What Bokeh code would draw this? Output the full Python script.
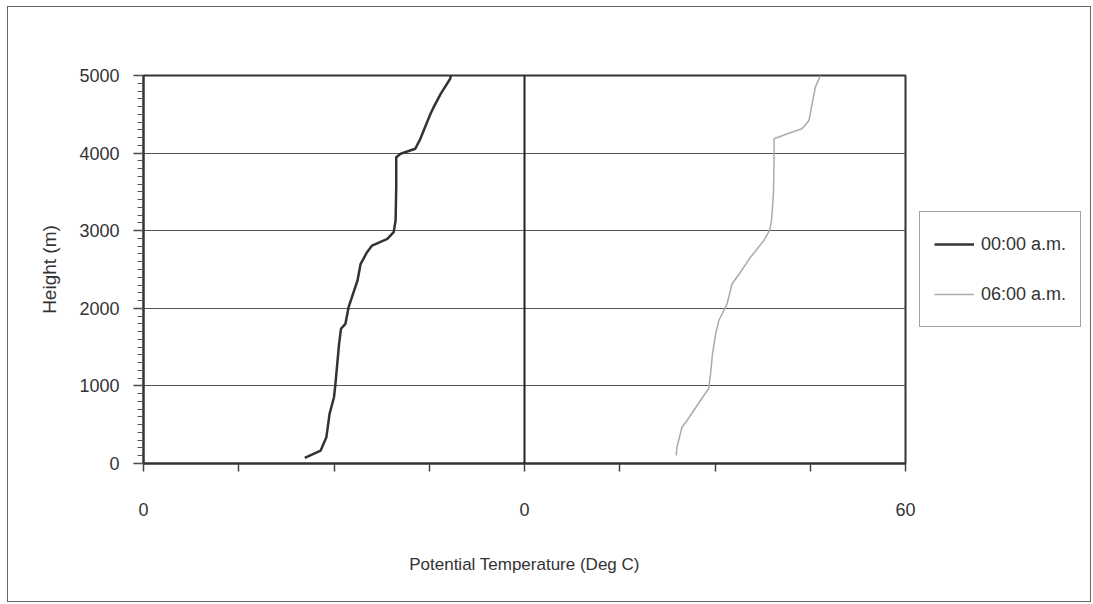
from bokeh.plotting import figure
from bokeh.models import (Range1d, FixedTicker, Span, Legend, LegendItem, InlineStyleSheet)
from bokeh.embed import file_html
from bokeh.resources import INLINE

# 00:00 a.m. profile (plotted on left half)
t00_temp = [-34.6, -32.1, -31.2, -30.7, -30.0, -29.8, -29.2, -28.9, -28.2, -27.7, -26.3, -25.8,
            -24.8, -24.0, -21.6, -20.6, -20.3, -20.2, -20.2, -19.5, -17.2, -16.4, -14.8, -14.3,
            -13.2, -11.7, -11.6]
t00_height = [73, 167, 339, 640, 854, 1005, 1542, 1736, 1800, 2014, 2358, 2573,
              2723, 2809, 2895, 2981, 3132, 3561, 3947, 3991, 4056, 4184, 4506, 4592,
              4764, 4958, 5000]
# 06:00 a.m. profile
t06_temp = [23.9, 24.0, 24.8, 25.6, 27.7, 29.0, 29.3, 29.6, 30.1, 30.6, 31.9, 32.7, 34.0,
            35.6, 37.7, 38.6, 38.9, 39.2, 39.3, 39.3, 41.4, 43.7, 44.8, 45.3, 45.8, 46.6]
t06_height = [103, 210, 468, 554, 812, 963, 1156, 1414, 1671, 1843, 2058, 2316, 2465,
              2659, 2874, 3003, 3132, 3475, 3905, 4184, 4249, 4313, 4420, 4635, 4850, 5000]

x_ticks = [-60, -45, -30, -15, 0, 15, 30, 45, 60]
x_tick_labels = {-60: "0", 0: "0", 60: "60"}
y_ticks = [0, 1000, 2000, 3000, 4000, 5000]

FONT = "Liberation Sans"
TXT = "#333333"

border_css = InlineStyleSheet(css="""
:host::after {
  content: '';
  position: absolute;
  left: 7px; top: 6px; width: 1082px; height: 594px;
  border: 1.5px solid #666666;
  pointer-events: none;
  z-index: 10;
}
""")

p = figure(frame_width=762, frame_height=388, output_backend="svg", toolbar_location=None,
           x_range=Range1d(-60, 60), y_range=Range1d(0, 5000),
           min_border_left=143, min_border_right=0, min_border_top=75, min_border_bottom=141)
p.stylesheets = [border_css]
p.background_fill_color = "white"
p.border_fill_color = "white"
p.outline_line_color = "#333333"
p.outline_line_width = 2

# axes
xa = p.xaxis[0]
xa.ticker = FixedTicker(ticks=x_ticks)
xa.major_label_overrides = {t: x_tick_labels.get(t, "") for t in x_ticks}
xa.major_tick_out = 8
xa.major_tick_in = 0
xa.minor_tick_out = 0
xa.minor_tick_in = 0
xa.major_label_standoff = 31
xa.axis_label = "Potential Temperature (Deg C)"
xa.axis_label_standoff = 36
ya = p.yaxis[0]
ya.ticker = FixedTicker(ticks=y_ticks, minor_ticks=list(range(0, 5001, 100)))
ya.major_tick_out = 10
ya.major_tick_in = 0
ya.minor_tick_out = 6
ya.minor_tick_in = 0
ya.major_label_standoff = 14
ya.axis_label = "Height (m)"
ya.axis_label_standoff = 16
for ax in (xa, ya):
    ax.axis_line_color = "#333333"
    ax.axis_line_width = 2
    ax.major_tick_line_color = "#444444"
    ax.major_tick_line_width = 1.5
    ax.minor_tick_line_color = "#555555"
    ax.minor_tick_line_width = 1
    ax.major_label_text_font = FONT
    ax.major_label_text_font_size = "18px"
    ax.major_label_text_color = TXT
    ax.axis_label_text_font = FONT
    ax.axis_label_text_font_size = "19px"
    ax.axis_label_text_font_style = "normal"
    ax.axis_label_text_color = TXT
xa.axis_label_text_font_size = "17px"

p.xgrid.grid_line_color = None
p.ygrid.grid_line_color = "#555555"
p.ygrid.grid_line_width = 1.2

# vertical zero line
p.add_layout(Span(location=0, dimension="height", line_color="#222222", line_width=2))

r0 = p.line(t00_temp, t00_height, line_color="#333333", line_width=2.5)
r1 = p.line(t06_temp, t06_height, line_color="#aaaaaa", line_width=1.5)

legend = Legend(items=[LegendItem(label="00:00 a.m.", renderers=[r0]),
                       LegendItem(label="06:00 a.m.", renderers=[r1])],
                location="center_left", orientation="vertical")
legend.label_text_font = FONT
legend.label_text_font_size = "18px"
legend.label_text_color = TXT
legend.glyph_width = 40
legend.glyph_height = 36
legend.spacing = 14
legend.padding = 14
legend.margin = 14
legend.label_standoff = 7
legend.border_line_color = "#444444"
legend.border_line_width = 1.5
legend.background_fill_alpha = 1
p.add_layout(legend, "right")

open("out.html", "w").write(file_html(p, INLINE))
